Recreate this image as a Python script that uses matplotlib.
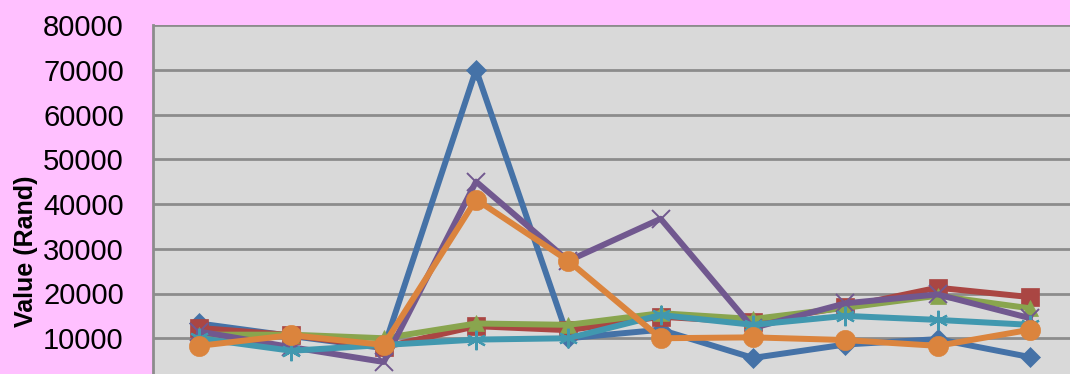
import numpy as np
import matplotlib
matplotlib.use('Agg')
import matplotlib.pyplot as plt
from matplotlib import font_manager

# values (Rand), 10 categories
blue = [13300, 10500, 7800, 70000, 10000, 11900, 5600, 8600, 9800, 5800]
red = [12300, 10700, 8000, 12700, 11800, 14800, 13600, 17000, 21300, 19200]
green = [10800, 10800, 10000, 13300, 13000, 15600, 14300, 16800, 19500, 16700]
purple = [11500, 8000, 4700, 45000, 27300, 36700, 12300, 17800, 19800, 14500]
aqua = [10000, 7200, 8500, 9700, 10000, 15200, 13000, 15000, 14100, 13000]
orange = [8300, 10700, 8500, 41000, 27300, 10000, 10200, 9600, 8300, 11900]
yticks = [0, 10000, 20000, 30000, 40000, 50000, 60000, 70000, 80000]

names = {f.name for f in font_manager.fontManager.ttflist}
tick_font = 'Liberation Sans Narrow' if 'Liberation Sans Narrow' in names else 'Liberation Sans'

fig = plt.figure(figsize=(10.7, 3.74), dpi=100, facecolor='#FFC0FF')
ax = fig.add_axes([153/1070, -9/374, 923/1070, 358/374])
ax.set_facecolor('#D9D9D9')

x = np.arange(len(blue))
lw = 4.3
series = [
    (blue, '#4572A7', 'D', 10),
    (red, '#AA4643', 's', 13),
    (green, '#89A54E', '^', 12),
    (purple, '#71588F', 'x', 13),
    (aqua, '#4198AF', '*', 14),
    (orange, '#DB843D', 'o', 14.5),
]
for vals, col, mk, ms in series:
    if mk == '*':
        ax.plot(x, vals, color=col, lw=lw, zorder=3)
        ax.plot(x, vals, ls='none', marker=(6, 2, 0), ms=ms, mec=col, mew=1.6, zorder=3)
    elif mk == 'x':
        ax.plot(x, vals, color=col, lw=lw, marker='x', ms=ms, mew=1.4, zorder=3)
    else:
        ax.plot(x, vals, color=col, lw=lw, marker=mk, ms=ms, mec=col, mew=0.5, zorder=3)

ax.set_xlim(-0.5, 9.5)
ax.set_ylim(0, 80000)
ax.set_yticks(yticks)
ax.set_yticklabels([str(v) for v in yticks], fontfamily=tick_font, fontsize=21)
ax.yaxis.grid(True, color='#8C8C8C', lw=2)
ax.set_axisbelow(True)
ax.tick_params(axis='y', length=0, pad=21)
ax.tick_params(axis='x', length=0, labelbottom=False)
for s in ['top', 'right', 'bottom']:
    ax.spines[s].set_visible(False)
ax.spines['left'].set_color('#8C8C8C')
ax.spines['left'].set_linewidth(2)

fig.text(26/1070, 1 - 251/374, 'Value (Rand)', rotation=90, ha='center', va='center',
         fontfamily=tick_font, fontweight='bold', fontsize=18)

fig.savefig('out.png', dpi=100, facecolor=fig.get_facecolor())
